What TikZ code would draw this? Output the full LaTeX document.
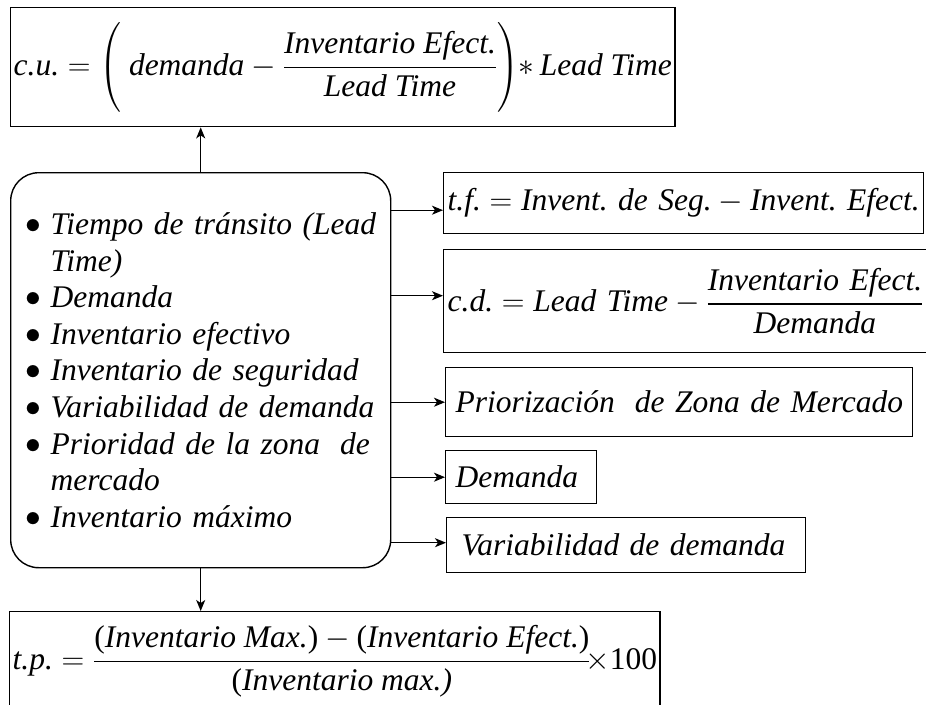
\documentclass[tikz,border=0pt]{standalone}
\usepackage{fix-cm}
\usepackage{amsmath}
\usepackage{fontspec}
\setmainfont{Liberation Serif}
\usetikzlibrary{arrows.meta}
\newcommand{\ti}[1]{\mbox{\itshape #1}}
\newcommand{\tu}[1]{\mbox{\upshape #1}}
\newcommand{\fr}[2]{\genfrac{}{}{1.3pt}{0}{#1}{#2}}
\newcommand{\bul}{\makebox[25pt][l]{\raisebox{1pt}{$\bullet$}}}
\begin{document}
\frenchspacing
\begin{tikzpicture}[x=1pt,y=-1pt,
  font=\fontsize{31.5}{36.6}\selectfont,
  frm/.style={draw, line width=1.4pt, rectangle, anchor=north west, inner ysep=0pt, align=left},
  mainbox/.style={draw, line width=1.4pt, rounded corners=28pt, anchor=north west, align=left},
  arr/.style={line width=1.3pt, -{Stealth[length=11pt,width=9pt,inset=3pt]}}]
\useasboundingbox (0,0) rectangle (926,704);

% top formula box
\node[frm, inner xsep=3pt, minimum height=119pt] (cu) at (10,7)
  {$\ti{c.u.}\mathrel{=}\left(\rule[-38pt]{0pt}{92pt}\ \ti{demanda} - \fr{\ti{Inventario Efect.}}{\ti{Lead Time}}\right)\!{*}\,\ti{Lead Time}$};

% main list
\node[mainbox, minimum width=380pt, minimum height=395pt, text width=350pt, inner xsep=15pt, inner ysep=0pt] (main) at (10,172)
  {\bul\ti{Tiempo de tránsito (Lead}\\
   \hspace*{25pt}\ti{Time)}\\
   \bul\ti{Demanda}\\
   \bul\ti{Inventario efectivo}\\
   \bul\ti{Inventario de seguridad}\\
   \bul\ti{Variabilidad de demanda}\\
   \bul\ti{Prioridad de la zona\hspace{0.3em} de}\\
   \hspace*{25pt}\ti{mercado}\\
   \bul\ti{Inventario máximo}};

% right boxes
\node[frm, inner xsep=4pt, minimum width=480pt, text width=472pt, minimum height=61pt] (tf) at (443,172)
  {$\ti{t.f.} = \ti{Invent. de Seg.} - \ti{Invent. Efect.}$};
\node[frm, inner xsep=4pt, minimum width=492pt, text width=484pt, minimum height=103pt] (cd) at (443,249)
  {$\ti{c.d.} = \ti{Lead Time} - \fr{\ti{Inventario Efect.}}{\ti{Demanda}}$};
\node[frm, inner xsep=10pt, minimum width=467pt, text width=447pt, minimum height=69pt] (pz) at (445,367)
  {\ti{Priorización\hspace{0.3em} de Zona de Mercado}};
\node[frm, inner xsep=10pt, minimum width=151pt, text width=131pt, minimum height=53pt] (dm) at (445,450)
  {\ti{Demanda}};
\node[frm, inner xsep=15pt, minimum width=359pt, text width=329pt, minimum height=55pt] (vd) at (446,517)
  {\ti{Variabilidad de demanda}};

% bottom formula box
\node[frm, inner xsep=3pt, minimum height=100pt] (tp) at (9,611)
  {$\ti{t.p.} = \fr{\tu{(}\ti{Inventario Max.}\tu{)} - \tu{(}\ti{Inventario Efect.}\tu{)}}{\tu{(}\ti{Inventario max.)}}\!\mathord{\times}\tu{100}$};

% connectors
\draw[arr] (main.north) -- (main.north |- cu.south);
\draw[arr] (main.south) -- (main.south |- tp.north);
\coordinate (tfin) at ([yshift=-7pt]tf.west);
\coordinate (cdin) at ([yshift=5.5pt]cd.west);
\coordinate (pzin) at (pz.west);
\coordinate (dmin) at (dm.west);
\coordinate (vdin) at ([yshift=2.5pt]vd.west);
\draw[arr] (tfin -| main.east) -- (tfin);
\draw[arr] (cdin -| main.east) -- (cdin);
\draw[arr] (pzin -| main.east) -- (pzin);
\draw[arr] (dmin -| main.east) -- (dmin);
\draw[arr] (vdin -| main.east) -- (vdin);
\end{tikzpicture}
\end{document}
